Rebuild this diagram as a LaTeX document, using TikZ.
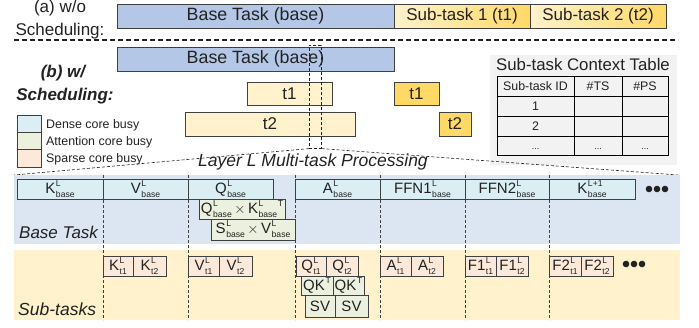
\documentclass[tikz,border=0pt]{standalone}
\usepackage{fontspec}
\setmainfont{Liberation Sans}
\definecolor{taskblue}{HTML}{B4C7E7}
\definecolor{suby}{HTML}{FFF2CC}
\definecolor{subyd}{HTML}{FFD966}
\definecolor{dense}{HTML}{DAEEF3}
\definecolor{attn}{HTML}{EBF1DE}
\definecolor{sparse}{HTML}{FDE9D9}
\definecolor{bgblue}{HTML}{DCE6F2}
\definecolor{bgyel}{HTML}{FFF2CC}
\definecolor{tblbg}{HTML}{F2F2F2}
\definecolor{edge}{HTML}{404040}
\definecolor{ink}{HTML}{222222}
\newcommand{\fbig}{\fontsize{17}{19}\selectfont}
\newcommand{\fmid}{\fontsize{15}{17}\selectfont}
\newcommand{\fsm}{\fontsize{12.4}{14}\selectfont}
\newcommand{\fscr}{\fontsize{8.6}{9}\selectfont}
\newcommand{\lbl}[3]{#1\kern0.6pt\rlap{\raisebox{6.8pt}{\fscr #2}}\raisebox{-4.2pt}{\fscr #3}}
\newcommand{\supT}{\kern0.6pt\raisebox{6.8pt}{\fscr T}}
\newcommand{\bx}[7]{%
  \pgfmathsetmacro{\bw}{#4-#2}\pgfmathsetmacro{\bh}{#5-#3}%
  \node[#6, anchor=north west, minimum width=\bw pt, minimum height=\bh pt] (#1) at (#2,#3) {#7};}
\tikzset{
  bx/.style={draw=edge, line width=0.7pt, inner sep=0pt, outer sep=0pt},
  blue/.style={bx, fill=taskblue, font=\fontsize{17.8}{19}\selectfont},
  ylt/.style={bx, fill=suby, font=\fbig},
  ydk/.style={bx, fill=subyd, font=\fbig},
  ygr/.style={bx, left color=suby, right color=subyd, font=\fbig},
  dns/.style={bx, fill=dense, font=\fmid},
  att/.style={bx, fill=attn, font=\fmid},
  spr/.style={bx, fill=sparse, font=\fmid},
  bigdash/.style={draw=ink, line width=1.3pt, dash pattern=on 5pt off 3pt},
  thindash/.style={draw=ink, line width=0.6pt, dash pattern=on 3pt off 2pt},
  coldash/.style={draw=edge, line width=0.8pt, dash pattern=on 3pt off 2pt},
  lab/.style={inner sep=0pt, anchor=base}
}
\begin{document}
\begin{tikzpicture}[x=1pt,y=-1pt, every node/.append style={text=ink}]
\useasboundingbox (0,0) rectangle (699,327);

% ---------- (a) without scheduling
\node[lab, font=\fbig] (alab1) at (60,12) {(a) w/o};
\node[lab, font=\fbig] (alab2) at (60,35) {Scheduling:};
\bx{abase}{117}{4}{394}{28}{blue}{Base Task (base)}
\bx{at1}{394}{4}{530}{28}{ygr}{Sub-task 1 (t1)}
\bx{at2}{530}{4}{666}{28}{ygr}{Sub-task 2 (t2)}

\coordinate (sepL) at (14,40);
\coordinate (sepR) at (678,40);
\draw[bigdash] (sepL) -- (sepR);

% ---------- (b) with scheduling
\node[lab, font=\fbig\bfseries\itshape] (blab1) at (63,77) {(b) w/};
\node[lab, font=\fbig\bfseries\itshape] (blab2) at (65,100) {Scheduling:};
\bx{bbase}{117}{47}{394}{71}{blue}{Base Task (base)}
\bx{bt1a}{247}{82}{332}{105}{ylt}{t1}
\bx{bt1b}{394}{82}{439}{105}{ydk}{t1}
\bx{bt2a}{185}{112}{355}{136}{ylt}{t2}
\bx{bt2b}{439}{112}{471}{136}{ydk}{t2}

% ---------- table
\bx{tbl}{490}{55}{677}{165}{fill=tblbg, inner sep=0pt}{}
\node[lab, font=\fontsize{16.8}{18}\selectfont] (ttitle) at (583,70) {Sub-task Context Table};
\draw[black, line width=0.8pt] (497,76) rectangle (668,155);
\foreach \yy in {96,116,136} \draw[black, line width=0.8pt] (497,\yy) -- (668,\yy);
\foreach \xx in {574,622} \draw[black, line width=0.8pt] (\xx,76) -- (\xx,155);
\node[lab, font=\fsm] (th1) at (535.5,90) {Sub-task ID};
\node[lab, font=\fsm] (th2) at (598,90) {\#TS};
\node[lab, font=\fsm] (th3) at (645,90) {\#PS};
\node[lab, font=\fsm] (tr1) at (535.5,110.5) {1};
\node[lab, font=\fsm] (tr2) at (535.5,130.5) {2};
\node[lab, font=\fontsize{9}{10}\selectfont] (tr3a) at (535.5,149) {...};
\node[lab, font=\fontsize{9}{10}\selectfont] (tr3b) at (598,149) {...};
\node[lab, font=\fontsize{9}{10}\selectfont] (tr3c) at (645,149) {...};

% ---------- legend
\bx{legd}{17}{115}{41}{132}{bx, fill=dense}{}
\bx{lega}{17}{132}{41}{149}{bx, fill=attn}{}
\bx{legs}{17}{149}{41}{167}{bx, fill=sparse}{}
\node[anchor=base west, inner sep=0pt, font=\fsm] (legdt) at (46,128) {Dense core busy};
\node[anchor=base west, inner sep=0pt, font=\fsm] (legat) at (46,145.5) {Attention core busy};
\node[anchor=base west, inner sep=0pt, font=\fsm] (legst) at (46,162.5) {Sparse core busy};

% ---------- zoom window
\bx{zoomwin}{309}{45}{321}{148}{thindash}{}
\coordinate (zl) at (14,175);
\coordinate (zr) at (678,175);
\draw[thindash] (zoomwin.south west) -- (zl);
\draw[thindash] (zoomwin.south east) -- (zr);
\node[lab, font=\fontsize{17.5}{19}\selectfont\itshape] (layertitle) at (313,166.5) {Layer L Multi-task Processing};

% ---------- bottom backgrounds
\fill[bgblue] (14,175) rectangle (680,244);
\fill[bgyel] (14,250) rectangle (680,320);
\foreach \xx in {103,188,295,380,465,549} \draw[coldash] (\xx,175) -- (\xx,320);

% base row
\bx{kb}{17}{179}{103}{199}{dns}{\lbl{K}{L}{base}}
\bx{vb}{103}{179}{188}{199}{dns}{\lbl{V}{L}{base}}
\bx{qb}{188}{179}{273}{199}{dns}{\lbl{Q}{L}{base}}
\bx{ab}{295}{179}{380}{199}{dns}{\lbl{A}{L}{base}}
\bx{f1b}{380}{179}{465}{199}{dns}{\lbl{FFN1}{L}{base}}
\bx{f2b}{465}{179}{549}{199}{dns}{\lbl{FFN2}{L}{base}}
\bx{knb}{549}{179}{635}{199}{dns}{\lbl{K}{L+1}{base}}
\fill[ink] (649,189) circle (3.3) (657,189) circle (3.3) (665,189) circle (3.3);
\bx{qkb}{199}{199}{285}{219}{att}{\lbl{Q}{L}{base}\,$\times$\,\lbl{K}{L}{base}\supT}
\bx{svb}{211}{219}{295}{240}{att}{\lbl{S}{L}{base}\,$\times$\,\lbl{V}{L}{base}}
\node[anchor=base west, inner sep=0pt, font=\fontsize{17}{19}\selectfont\itshape] (basetask) at (19,238) {Base Task};

% sub-task row
\bx{k1}{103}{256}{133}{276}{spr}{\lbl{K}{L}{t1}}
\bx{k2}{133}{256}{166}{276}{spr}{\lbl{K}{L}{t2}}
\bx{v1}{188}{256}{219}{276}{spr}{\lbl{V}{L}{t1}}
\bx{v2}{219}{256}{252}{276}{spr}{\lbl{V}{L}{t2}}
\bx{q1}{296}{256}{326}{276}{spr}{\lbl{Q}{L}{t1}}
\bx{q2}{326}{256}{358}{276}{spr}{\lbl{Q}{L}{t2}}
\bx{qk1}{301}{276}{333}{295}{att}{QK\supT}
\bx{qk2}{333}{276}{364}{295}{att}{QK\supT}
\bx{sv1}{305}{295}{335}{317}{att}{SV}
\bx{sv2}{335}{295}{368}{317}{att}{SV}
\bx{a1}{380}{256}{411}{276}{spr}{\lbl{A}{L}{t1}}
\bx{a2}{411}{256}{443}{276}{spr}{\lbl{A}{L}{t2}}
\bx{ff11}{465}{256}{496}{276}{spr}{\lbl{F1}{L}{t1}}
\bx{ff12}{496}{256}{528}{276}{spr}{\lbl{F1}{L}{t2}}
\bx{ff21}{549}{256}{581}{276}{spr}{\lbl{F2}{L}{t1}}
\bx{ff22}{581}{256}{613}{276}{spr}{\lbl{F2}{L}{t2}}
\fill[ink] (626,264) circle (3.3) (634,264) circle (3.3) (642,264) circle (3.3);
\node[anchor=base west, inner sep=0pt, font=\fontsize{17.5}{19}\selectfont\itshape] (subtasks) at (18,315) {Sub-tasks};
\end{tikzpicture}
\end{document}
